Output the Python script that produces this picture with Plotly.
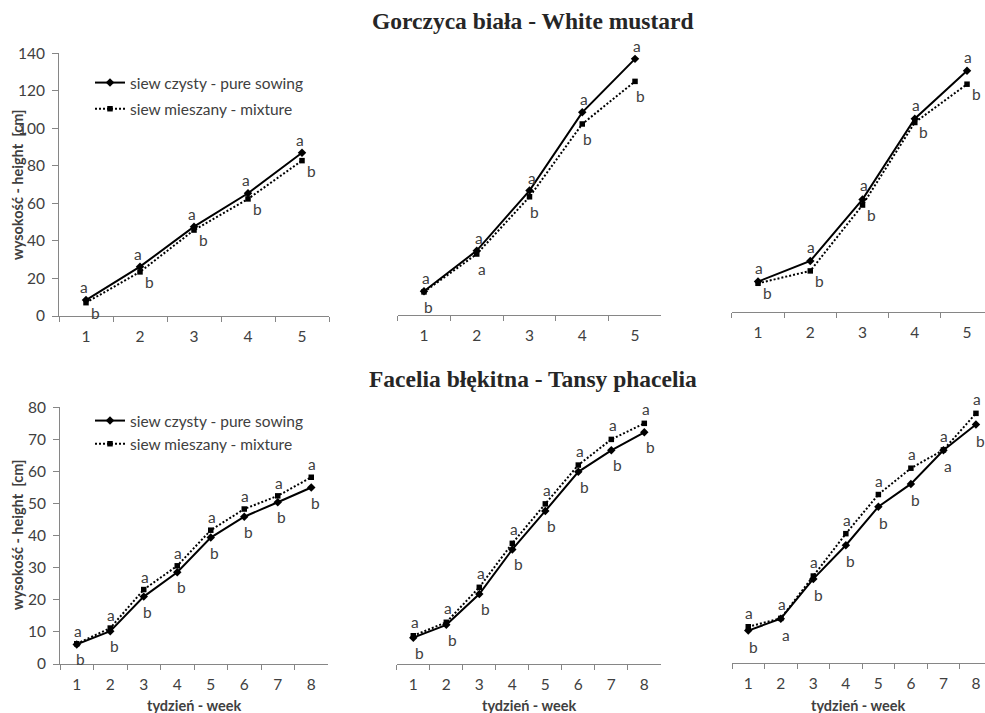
import plotly.graph_objects as go

# ---------------- data ----------------
weeks_mustard = ["1", "2", "3", "4", "5"]
weeks_phacelia = ["1", "2", "3", "4", "5", "6", "7", "8"]

mustard_pure_1 = [8.5, 26.3, 47.6, 65.4, 87.0]
mustard_mix_1 = [7.1, 23.5, 45.8, 62.4, 82.8]
mustard_pure_2 = [12.7, 34.3, 66.3, 108.0, 136.5]
mustard_mix_2 = [12.3, 32.5, 63.0, 101.8, 124.5]
mustard_pure_3 = [16.2, 27.2, 60.0, 103.0, 128.6]
mustard_mix_3 = [15.3, 21.9, 57.0, 101.0, 121.4]

phacelia_pure_1 = [6.1, 10.2, 21.0, 28.6, 39.4, 45.9, 50.4, 55.0]
phacelia_mix_1 = [6.3, 11.2, 23.2, 30.6, 41.7, 48.3, 52.4, 58.2]
phacelia_pure_2 = [8.2, 12.2, 21.8, 35.7, 47.7, 59.9, 66.6, 72.2]
phacelia_mix_2 = [8.8, 13.0, 23.9, 37.6, 49.9, 62.0, 70.0, 75.0]
phacelia_pure_3 = [10.2, 13.9, 26.3, 36.8, 48.8, 55.9, 66.4, 74.4]
phacelia_mix_3 = [11.4, 14.0, 27.2, 40.4, 52.6, 60.8, 66.5, 77.9]

lab_mustard_pure_1 = ["a", "a", "a", "a", "a"]
lab_mustard_mix_1 = ["b", "b", "b", "b", "b"]
lab_mustard_pure_2 = ["a", "a", "a", "a", "a"]
lab_mustard_mix_2 = ["b", "a", "b", "b", "b"]
lab_mustard_pure_3 = ["a", "a", "a", "a", "a"]
lab_mustard_mix_3 = ["b", "b", "b", "b", "b"]

lab_phacelia_pure_1 = ["b"] * 8
lab_phacelia_mix_1 = ["a"] * 8
lab_phacelia_pure_2 = ["b"] * 8
lab_phacelia_mix_2 = ["a"] * 8
lab_phacelia_pure_3 = ["b", "a", "b", "b", "b", "b", "a", "b"]
lab_phacelia_mix_3 = ["a"] * 8

series_pure_name = "siew czysty - pure sowing"
series_mix_name = "siew mieszany - mixture"
title_mustard = "Gorczyca biała - White mustard"
title_phacelia = "Facelia błękitna - Tansy phacelia"
y_title = "wysokość - height  [cm]"
x_title = "tydzień - week"
mustard_ticks = [0, 20, 40, 60, 80, 100, 120, 140]
phacelia_ticks = [0, 10, 20, 30, 40, 50, 60, 70, 80]

# ---------------- layout helpers ----------------
W, H = 985, 713
FONT = "Lato"
FS = 15.5
TXT = "#404040"
AX = "#868686"


def px_x(p):
    return p / W


def px_y(p):
    return 1 - p / H


panels = [
    dict(w=weeks_mustard, p=mustard_pure_1, m=mustard_mix_1, lp=lab_mustard_pure_1, lm=lab_mustard_mix_1,
         x0=59, x1=329, yb=316, yt=53.3, ymax=140, xhi=4.5, showy=True, ticks=mustard_ticks,
         op=(-2, -13), om=(9, 10), leg="legend"),
    dict(w=weeks_mustard, p=mustard_pure_2, m=mustard_mix_2, lp=lab_mustard_pure_2, lm=lab_mustard_mix_2,
         x0=397.6, x1=661.4, yb=315, yt=52.3, ymax=140, xhi=4.5, showy=False, ticks=mustard_ticks,
         op=(2, -13), om=(5, 15), leg=None),
    dict(w=weeks_mustard, p=mustard_pure_3, m=mustard_mix_3, lp=lab_mustard_pure_3, lm=lab_mustard_mix_3,
         x0=731.9, x1=985, yb=312, yt=49.3, ymax=140, xhi=4.344, showy=False, ticks=mustard_ticks,
         op=(1, -14), om=(9, 10), leg=None),
    dict(w=weeks_phacelia, p=phacelia_pure_1, m=phacelia_mix_1, lp=lab_phacelia_pure_1, lm=lab_phacelia_mix_1,
         x0=60, x1=328, yb=664, yt=407.3, ymax=80, xhi=7.5, showy=True, ticks=phacelia_ticks,
         op=(4, 15), om=(1, -13), leg="legend2"),
    dict(w=weeks_phacelia, p=phacelia_pure_2, m=phacelia_mix_2, lp=lab_phacelia_pure_2, lm=lab_phacelia_mix_2,
         x0=396.8, x1=660.8, yb=664, yt=407.3, ymax=80, xhi=7.5, showy=False, ticks=phacelia_ticks,
         op=(6, 15), om=(2, -14), leg=None),
    dict(w=weeks_phacelia, p=phacelia_pure_3, m=phacelia_mix_3, lp=lab_phacelia_pure_3, lm=lab_phacelia_mix_3,
         x0=732, x1=985, yb=663.3, yt=406.6, ymax=80, xhi=7.278, showy=False, ticks=phacelia_ticks,
         op=(5, 16), om=(1, -14), leg=None),
]

fig = go.Figure()
annotations = []
layout = {}

for i, pn in enumerate(panels, start=1):
    xa = "x" if i == 1 else f"x{i}"
    ya = "y" if i == 1 else f"y{i}"
    xkey = "xaxis" if i == 1 else f"xaxis{i}"
    ykey = "yaxis" if i == 1 else f"yaxis{i}"
    showleg = pn["leg"] is not None
    legname = pn["leg"] if showleg else "legend"

    fig.add_trace(go.Scatter(
        x=pn["w"], y=pn["p"], xaxis=xa, yaxis=ya, mode="lines+markers",
        name=series_pure_name, showlegend=showleg, legend=legname,
        legendgroup=f"p{i}",
        line=dict(color="black", width=2),
        marker=dict(symbol="diamond", size=6.5, color="black"),
        cliponaxis=False,
    ))
    fig.add_trace(go.Scatter(
        x=pn["w"], y=pn["m"], xaxis=xa, yaxis=ya, mode="lines+markers",
        name=series_mix_name, showlegend=showleg, legend=legname,
        legendgroup=f"m{i}",
        line=dict(color="black", width=2, dash="2px,2px"),
        marker=dict(symbol="square", size=5.5, color="black"),
        cliponaxis=False,
    ))

    for series, labs, off in ((pn["p"], pn["lp"], pn["op"]), (pn["m"], pn["lm"], pn["om"])):
        for j, (v, t) in enumerate(zip(series, labs)):
            annotations.append(dict(
                x=j, y=v, xref=xa, yref=ya, text=t, showarrow=False,
                xshift=off[0], yshift=-off[1],
                font=dict(family=FONT, size=FS, color=TXT),
            ))

    layout[xkey] = dict(
        domain=[px_x(pn["x0"]), min(1, px_x(pn["x1"]))],
        anchor=ya, type="category", range=[-0.5, pn["xhi"]],
        showline=True, linecolor=AX, linewidth=1,
        ticks="outside", tickson="boundaries", ticklen=5, tickcolor=AX,
        tickfont=dict(family=FONT, size=FS, color=TXT),
        ticklabelstandoff=6,
        showgrid=False, zeroline=False, fixedrange=True, automargin=False,
    )
    layout[ykey] = dict(
        domain=[px_y(pn["yb"]), px_y(pn["yt"])],
        anchor=xa, range=[0, pn["ymax"]],
        tickvals=pn["ticks"],
        showline=pn["showy"], visible=pn["showy"], linecolor=AX, linewidth=1,
        ticks="outside", ticklen=6, tickcolor=AX,
        tickfont=dict(family=FONT, size=FS, color=TXT),
        ticklabelstandoff=4,
        showgrid=False, zeroline=False, fixedrange=True, automargin=False,
    )

# titles
for txt, yc in ((title_mustard, 21), (title_phacelia, 379)):
    annotations.append(dict(x=px_x(533), y=px_y(yc), xref="paper", yref="paper", text="<b>" + txt + "</b>",
                            showarrow=False, xanchor="center", yanchor="middle",
                            font=dict(family="Liberation Serif", size=23.5, color="#262626")))
# y titles
for yc in (185, 535):
    annotations.append(dict(x=px_x(17), y=px_y(yc), xref="paper", yref="paper", text="<b>" + y_title + "</b>",
                            showarrow=False, textangle=-90, xanchor="center", yanchor="middle",
                            font=dict(family=FONT, size=14.5, color=TXT)))
# x titles
for xc in (194, 529, 858):
    annotations.append(dict(x=px_x(xc), y=px_y(705), xref="paper", yref="paper", text="<b>" + x_title + "</b>",
                            showarrow=False, xanchor="center", yanchor="middle",
                            font=dict(family=FONT, size=14.5, color=TXT)))

legend_style = dict(
    font=dict(family=FONT, size=FS, color=TXT), bgcolor="rgba(0,0,0,0)",
    xanchor="left", yanchor="top", itemwidth=30, traceorder="grouped",
)
layout["legend"] = dict(x=px_x(90), y=px_y(66), tracegroupgap=3, **legend_style)
layout["legend2"] = dict(x=px_x(90), y=px_y(404), tracegroupgap=0, **legend_style)

fig.update_layout(
    width=W, height=H, margin=dict(l=0, r=0, t=0, b=0, autoexpand=False),
    paper_bgcolor="white", plot_bgcolor="white",
    annotations=annotations, **layout,
)

fig.write_html(
    "out.html",
    config={"displayModeBar": False},
    post_script="document.body.style.margin='0';document.body.style.overflow='hidden';",
)
